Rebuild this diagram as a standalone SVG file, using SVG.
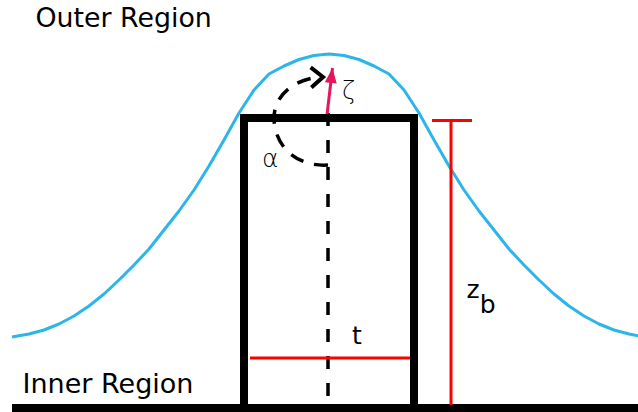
<svg xmlns="http://www.w3.org/2000/svg" width="638" height="412" viewBox="0 0 638 412">
<style>
.lbl{font-family:"DejaVu Sans","Liberation Sans",sans-serif;fill:#000}
.greek{font-family:"DejaVu Sans","Liberation Sans",sans-serif;font-weight:200;fill:#000}
.red{stroke:#ff0000;stroke-width:3;fill:none}
.dash{stroke:#000;stroke-width:3.5;fill:none}
</style>
<defs>
<marker id="chev" markerUnits="userSpaceOnUse" markerWidth="30" markerHeight="30" refX="0" refY="0" viewBox="-15 -15 30 30" orient="auto" overflow="visible">
<path d="M-12,-10 L0,0 L-12,10" fill="none" stroke="#000" stroke-width="4" stroke-linejoin="miter"/>
</marker>
<marker id="tri" markerUnits="userSpaceOnUse" markerWidth="30" markerHeight="30" refX="0" refY="0" viewBox="-20 -10 30 20" orient="auto" overflow="visible">
<path d="M0,0 L-15,-6 L-15,6 Z" fill="#e3175b"/>
</marker>
</defs>
<rect width="638" height="412" fill="#fff"/>
<g id="surface">
<polyline fill="none" stroke="#2cb5e8" stroke-width="3" stroke-linejoin="round" points="12,337 29,334 44,330 59,324 74,316 89,306 104,294 119,280 134,265 149,249 164,230 179,211 194,190 209,166 224,140 239,113 254,90 269,74 284,66 299,59.5 314,55.5 329,54 344,55.5 359,59.5 374,66 389,74 404,90 419,113 434,140 449,166 464,190 479,211 494,230 509,249 524,265 539,280 554,294 569,306 584,316 599,324 614,330 629,334 638,335.8"/>
</g>
<g id="connectors">
<line class="dash" x1="328" y1="113" x2="328" y2="404" stroke-dasharray="13 14"/>
<path class="dash" d="M328,165 C300,167 276,150 274,120 C273,95 295,78 323,77" stroke-dasharray="14 11" marker-end="url(#chev)"/>
<line x1="327" y1="115" x2="332.5" y2="68" stroke="#e3175b" stroke-width="3" marker-end="url(#tri)"/>
</g>
<g id="block">
<path d="M244,405 V118 H414 V405" fill="none" stroke="#000" stroke-width="8" stroke-linejoin="miter"/>
</g>
<g id="floor">
<line x1="12" y1="408" x2="638" y2="408" stroke="#000" stroke-width="8"/>
</g>
<g id="t-dim">
<line class="red" x1="250" y1="358" x2="410" y2="358"/>
<text class="lbl" x="352" y="344" font-size="25">t</text>
</g>
<g id="zb-dim">
<line class="red" x1="451" y1="120" x2="451" y2="405"/>
<line class="red" x1="432" y1="120.5" x2="472" y2="120.5"/>
<text class="lbl" x="466.5" y="298" font-size="25">z<tspan dy="15">b</tspan></text>
</g>
<g id="labels">
<text class="lbl" x="35.5" y="27" font-size="26.8">Outer Region</text>
<text class="lbl" x="22.5" y="393" font-size="27">Inner Region</text>
<text class="greek" x="262" y="167" font-size="25">α</text>
<text class="greek" x="342" y="99" font-size="24">ζ</text>
</g>
</svg>
